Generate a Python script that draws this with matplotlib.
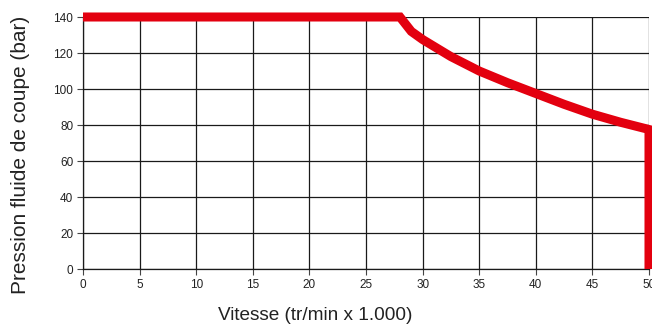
import matplotlib
matplotlib.use('Agg')
import matplotlib.pyplot as plt

plt.rcParams['font.family'] = ['Liberation Sans', 'DejaVu Sans']

# courbe pression / vitesse
vitesse = [0, 28, 29, 30, 32.5, 35, 37.5, 40, 42.5, 45, 47.5, 50, 50]
pression = [140, 140, 132, 127.5, 118, 110, 103.5, 97.5, 91.5, 86, 81.5, 77.5, 0]

x_ticks = [0, 5, 10, 15, 20, 25, 30, 35, 40, 45, 50]
y_ticks = [0, 20, 40, 60, 80, 100, 120, 140]

W, H = 652, 326
fig = plt.figure(figsize=(W / 100, H / 100), dpi=100)
ax = fig.add_axes([83 / W, 1 - 269 / H, (649 - 83) / W, (269 - 17) / H])

ax.plot(vitesse, pression, color='#e3000f', linewidth=6.5, solid_joinstyle='miter',
        solid_capstyle='butt', clip_on=False, zorder=5)

ax.set_xlim(0, 50)
ax.set_ylim(0, 140)
ax.set_xticks(x_ticks)
ax.set_yticks(y_ticks)
ax.grid(True, color='#1a1a1a', linewidth=0.9)
ax.set_axisbelow(True)

for side in ['top', 'right']:
    ax.spines[side].set_visible(False)
for side in ['left', 'bottom']:
    ax.spines[side].set_color('#1a1a1a')
    ax.spines[side].set_linewidth(0.9)

ax.tick_params(axis='both', labelsize=8.5, length=4, width=0.8, color='#444444',
               labelcolor='#222222', pad=3)

# titres des axes
fig.text(315 / W, 1 - 316 / H, 'Vitesse (tr/min x 1.000)', fontsize=13.7,
         color='#222222', ha='center', va='center')
fig.text(21 / W, 1 - 155 / H, 'Pression fluide de coupe (bar)', fontsize=15,
         color='#222222', ha='center', va='center', rotation=90)

fig.savefig('out.png', dpi=100, facecolor='white')
